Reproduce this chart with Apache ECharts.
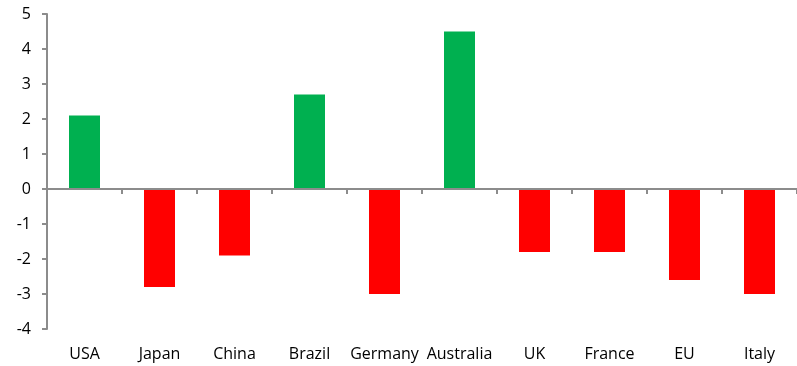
<!DOCTYPE html>
<html>
<head>
<meta charset="utf-8">
<script src="https://cdn.jsdelivr.net/npm/echarts@6/dist/echarts.min.js"></script>
<style>
  html, body { margin: 0; padding: 0; background: #fff; }
  #chart { width: 797px; height: 366px; }
</style>
</head>
<body>
<div id="chart"></div>
<script>
// Country labels along the bottom
const categories = ['USA', 'Japan', 'China', 'Brazil', 'Germany', 'Australia', 'UK', 'France', 'EU', 'Italy'];
// One value per country
const values = [2.1, -2.8, -1.9, 2.7, -3.0, 4.5, -1.8, -1.8, -2.6, -3.0];
// Value axis range
const yMin = -4;
const yMax = 5;
const yStep = 1;

const POS = '#00B050';
const NEG = '#FF0000';
const AXIS = '#8C8C8C';
const FONT = '"Open Sans", sans-serif';

const chart = echarts.init(document.getElementById('chart'));
chart.setOption({
  animation: false,
  grid: { left: 47, right: 0, top: 14, bottom: 37, containLabel: false },
  xAxis: [
    {
      // axis line and ticks sitting on zero
      type: 'category',
      data: categories,
      z: 3,
      axisLine: { onZero: true, lineStyle: { color: AXIS, width: 2 } },
      axisTick: { show: true, length: 5, lineStyle: { color: AXIS, width: 2 } },
      axisLabel: { show: false },
      splitLine: { show: false }
    },
    {
      // category names along the bottom edge
      type: 'category',
      data: categories,
      position: 'bottom',
      axisLine: { show: false, onZero: false },
      axisTick: { show: false },
      axisLabel: { color: '#000', fontSize: 16, fontFamily: FONT, margin: 17, interval: 0, hideOverlap: false },
      splitLine: { show: false }
    }
  ],
  yAxis: {
    type: 'value',
    min: yMin,
    max: yMax,
    interval: yStep,
    axisLine: { show: true, lineStyle: { color: AXIS, width: 2 } },
    axisTick: { show: true, length: 5, lineStyle: { color: AXIS, width: 2 } },
    axisLabel: { color: '#000', fontSize: 16, fontFamily: FONT, margin: 16 },
    splitLine: { show: false }
  },
  series: [{
    type: 'bar',
    xAxisIndex: 0,
    data: values.map(v => ({ value: v, itemStyle: { color: v >= 0 ? POS : NEG } })),
    barWidth: 31
  }]
});
</script>
</body>
</html>
